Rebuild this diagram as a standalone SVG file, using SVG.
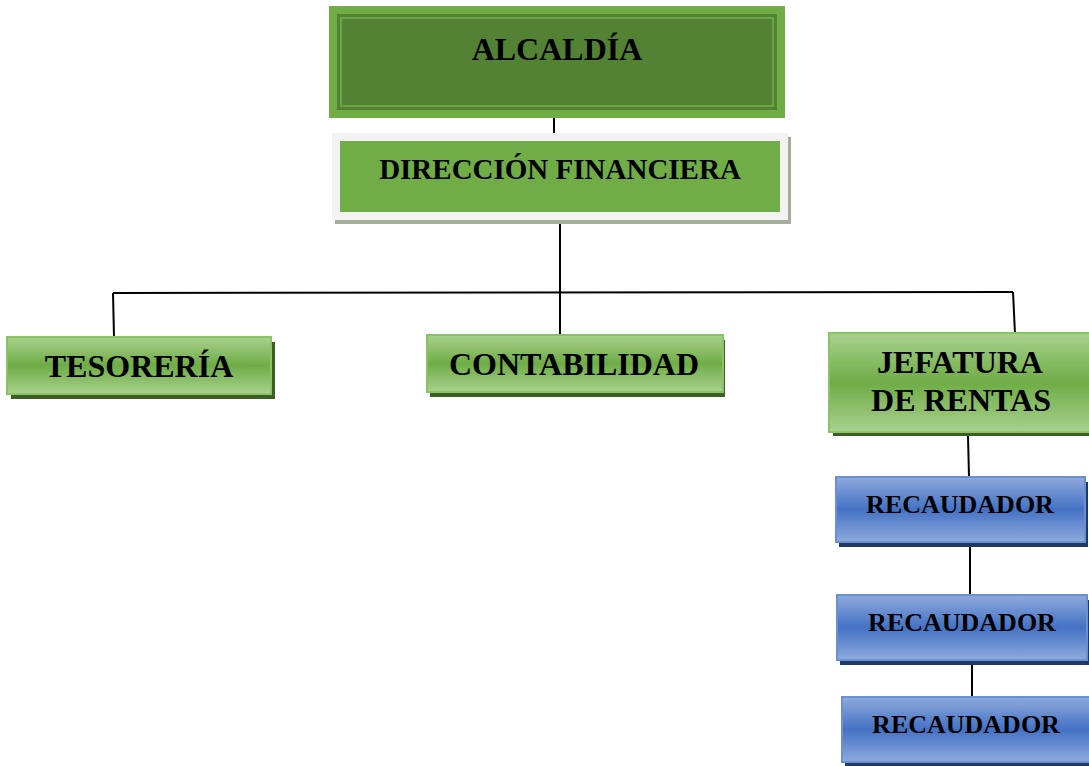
<svg xmlns="http://www.w3.org/2000/svg" width="1089" height="766" viewBox="0 0 1089 766">
<defs>
<linearGradient id="gGreen" x1="0" y1="0" x2="0" y2="1">
<stop offset="0" stop-color="#A9D18E"/>
<stop offset="0.5" stop-color="#6FAC46"/>
<stop offset="1" stop-color="#A9D18E"/>
</linearGradient>
<linearGradient id="gBlue" x1="0" y1="0" x2="0" y2="1">
<stop offset="0" stop-color="#8FAADC"/>
<stop offset="0.5" stop-color="#4472C4"/>
<stop offset="1" stop-color="#8FAADC"/>
</linearGradient>
<style>
.t{font-family:"Liberation Serif","Times New Roman",serif;font-weight:bold;fill:#000;text-anchor:middle}
.conn{stroke:#000;stroke-width:2;fill:none}
.gbox{fill:url(#gGreen);stroke:#8CC266;stroke-width:2}
.gsh{fill:#3A5E24}
.bbox{fill:url(#gBlue);stroke:#6A8FD3;stroke-width:2}
.bsh{fill:#203864}
</style>
</defs>
<g id="connectors">
<line class="conn" x1="554" y1="110" x2="554" y2="141"/>
<line class="conn" x1="560" y1="220" x2="560" y2="337"/>
<line class="conn" x1="113" y1="293" x2="1013" y2="292"/>
<line class="conn" x1="113" y1="293" x2="114" y2="337"/>
<line class="conn" x1="1013" y1="292" x2="1015" y2="334"/>
<line class="conn" x1="968" y1="436" x2="969" y2="477"/>
<line class="conn" x1="970" y1="547" x2="970" y2="595"/>
<line class="conn" x1="972" y1="665" x2="972" y2="697"/>
</g>
<g id="alcaldia">
<rect x="329" y="6" width="456" height="112" fill="#70AD47"/>
<rect x="337" y="14" width="440" height="96" fill="#548235"/>
<rect x="341" y="18" width="432" height="88" fill="none" stroke="#6DA545" stroke-width="2"/>
<text class="t" x="557" y="60" font-size="32">ALCALDÍA</text>
</g>
<g id="direccion">
<rect x="335" y="137" width="456" height="87" fill="#A4AE98"/>
<rect x="332" y="133" width="456" height="87" fill="#F2F2F2"/>
<rect x="340" y="141" width="440" height="71" fill="#70AD47"/>
<text class="t" x="560" y="179" font-size="29">DIRECCIÓN FINANCIERA</text>
</g>
<g id="tesoreria">
<rect class="gsh" x="11" y="342" width="264" height="57"/>
<rect class="gbox" x="7" y="337" width="264" height="57"/>
<text class="t" x="139" y="377" font-size="32">TESORERÍA</text>
</g>
<g id="contabilidad">
<rect class="gsh" x="430" y="340" width="295" height="57"/>
<rect class="gbox" x="427" y="335" width="296" height="57"/>
<text class="t" x="574" y="375" font-size="32">CONTABILIDAD</text>
</g>
<g id="jefatura">
<rect class="gsh" x="833" y="338" width="260" height="98"/>
<rect class="gbox" x="829" y="333" width="264" height="99"/>
<text class="t" x="960" y="373" font-size="32">JEFATURA</text>
<text class="t" x="961" y="411" font-size="32">DE RENTAS</text>
</g>
<g id="recaudador1">
<rect class="bsh" x="839" y="482" width="249" height="65"/>
<rect class="bbox" x="836" y="477" width="249" height="65"/>
<text class="t" x="960" y="513" font-size="26">RECAUDADOR</text>
</g>
<g id="recaudador2">
<rect class="bsh" x="840" y="600" width="250" height="65"/>
<rect class="bbox" x="837" y="595" width="250" height="65"/>
<text class="t" x="962" y="631" font-size="26">RECAUDADOR</text>
</g>
<g id="recaudador3">
<rect class="bsh" x="845" y="702" width="250" height="64"/>
<rect class="bbox" x="842" y="697" width="250" height="65"/>
<text class="t" x="966" y="733" font-size="26">RECAUDADOR</text>
</g>
</svg>
